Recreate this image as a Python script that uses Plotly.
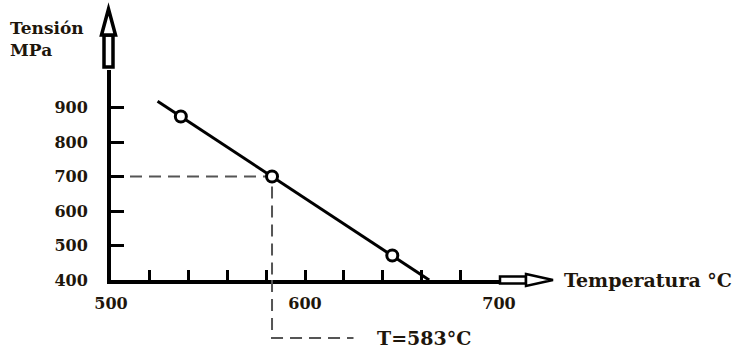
import plotly.graph_objects as go

# ---- data ----
line_temp = [524, 664]          # straight line end points (°C)
line_stress = [918, 400]        # MPa
pts_temp = [536, 583, 645]      # open circles (°C)
pts_stress = [874, 700, 471]    # MPa
guide_T = 583                   # dashed guide temperature
guide_S = 700                   # dashed guide stress
y_ticks = [400, 500, 600, 700, 800, 900]
x_ticks = [500, 600, 700]
x_minor_step = 20

# ---- layout geometry (pixels) ----
W, H = 734, 353
ML, MR, MT, MB = 111, 235, 70, 73
PW, PH = W - ML - MR, H - MT - MB
Y_TOP = 400 + PH / 0.345


def px(x):
    return (x - ML) / PW


def py(y):
    return (H - MB - y) / PH


def path(points):
    s = "M" + " L".join(f"{px(x):.5f},{py(y):.5f}" for x, y in points) + " Z"
    return s


FONT = "DejaVu Serif"
TXT = "#1e160c"

fig = go.Figure()

# dashed guide lines inside the plot
fig.add_trace(go.Scatter(
    x=[x_ticks[0], guide_T, guide_T], y=[guide_S, guide_S, y_ticks[0]],
    mode="lines", line=dict(color="#555555", width=2, dash="12px,7px"),
    hoverinfo="skip", showlegend=False))

# main line
fig.add_trace(go.Scatter(
    x=line_temp, y=line_stress, mode="lines",
    line=dict(color="black", width=3), showlegend=False))

# open circles
fig.add_trace(go.Scatter(
    x=pts_temp, y=pts_stress, mode="markers",
    marker=dict(symbol="circle", size=11, color="white",
                line=dict(color="black", width=3)),
    showlegend=False, cliponaxis=False))

shapes = []
# dashed guide continuing below the x axis
yb = py(338)
shapes.append(dict(type="path", xref="x", yref="paper",
                   path=f"M{guide_T},0 L{guide_T},{yb:.5f} L625,{yb:.5f}",
                   line=dict(color="#555555", width=2, dash="12px,7px")))

# hollow arrow on y axis
cx = 108.5
shapes.append(dict(type="path", xref="paper", yref="paper",
                   path=path([(cx - 4.5, 67), (cx - 4.5, 35), (cx + 4.5, 35), (cx + 4.5, 67)]),
                   line=dict(color="black", width=3.5), fillcolor="white"))
shapes.append(dict(type="path", xref="paper", yref="paper",
                   path=path([(cx - 7, 35), (cx, 9), (cx + 7, 35)]),
                   line=dict(color="black", width=3.5), fillcolor="white"))

# hollow arrow on x axis
cy = 280
shapes.append(dict(type="path", xref="paper", yref="paper",
                   path=path([(500, cy - 3.5), (526, cy - 3.5), (526, cy + 3.5), (500, cy + 3.5)]),
                   line=dict(color="black", width=2.5), fillcolor="white"))
shapes.append(dict(type="path", xref="paper", yref="paper",
                   path=path([(526, cy - 6), (553, cy), (526, cy + 6)]),
                   line=dict(color="black", width=2.5), fillcolor="white"))

annotations = [
    dict(text="<b>Tensión</b>", x=px(8), y=py(28), xref="paper", yref="paper",
         xanchor="left", yanchor="middle", showarrow=False,
         font=dict(family=FONT, size=17, color=TXT)),
    dict(text="<b>MPa</b>", x=px(8), y=py(50), xref="paper", yref="paper",
         xanchor="left", yanchor="middle", showarrow=False,
         font=dict(family=FONT, size=17, color=TXT)),
    dict(text="<b>Temperatura °C</b>", x=px(562), y=py(280), xref="paper", yref="paper",
         xanchor="left", yanchor="middle", showarrow=False,
         font=dict(family=FONT, size=19, color=TXT)),
    dict(text=f"<b>T={guide_T}°C</b>", x=px(375), y=py(338), xref="paper", yref="paper",
         xanchor="left", yanchor="middle", showarrow=False,
         font=dict(family=FONT, size=19, color=TXT)),
]

fig.update_layout(
    width=W, height=H,
    margin=dict(l=ML, r=MR, t=MT, b=MB, pad=0),
    paper_bgcolor="white", plot_bgcolor="white",
    shapes=shapes, annotations=annotations,
    xaxis=dict(range=[500, 700], tickvals=x_ticks, ticktext=[str(v) for v in x_ticks],
               showgrid=False, zeroline=False, showline=True, linecolor="black",
               linewidth=4, ticks="inside", ticklen=10, tickwidth=3, tickcolor="black",
               minor=dict(dtick=x_minor_step, tick0=500, ticks="inside", ticklen=10,
                          tickwidth=3, tickcolor="black", showgrid=False),
               ticklabelstandoff=6,
               tickfont=dict(family=FONT, size=16, color=TXT, weight="bold")),
    yaxis=dict(range=[400, Y_TOP], tickvals=y_ticks, ticktext=[str(v) for v in y_ticks],
               showgrid=False, zeroline=False, showline=True, linecolor="black",
               linewidth=4, ticks="inside", ticklen=13, tickwidth=3, tickcolor="black",
               ticklabelstandoff=16,
               tickfont=dict(family=FONT, size=16, color=TXT, weight="bold")),
)

fig.write_html("out.html", config={"displayModeBar": False},
               post_script="document.body.style.margin='0';document.body.style.overflow='hidden';")
